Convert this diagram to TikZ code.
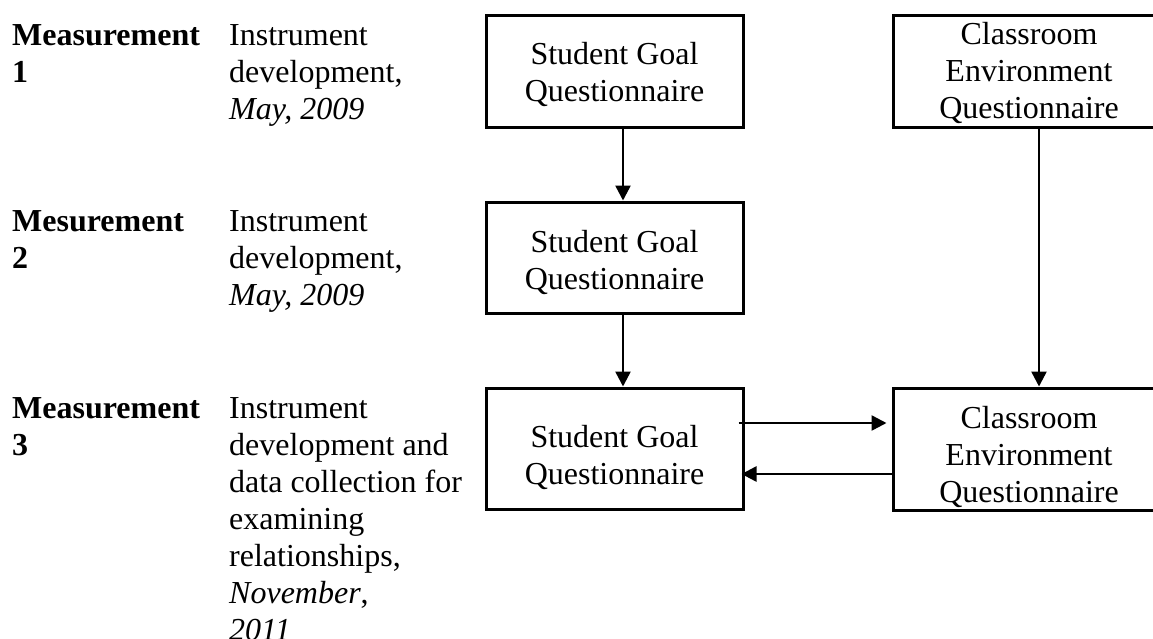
\documentclass[tikz,border=0pt]{standalone}
\usepackage{fontspec}
\setmainfont{Liberation Serif}
\usetikzlibrary{arrows.meta}
\begin{document}
\begin{tikzpicture}[x=1pt,y=-1pt,
  coltext/.style={font=\fontsize{32}{37}\selectfont, inner sep=0pt,
    anchor=north west, align=left},
  qbox/.style={draw, line width=3pt, inner sep=0pt,
    font=\fontsize{32}{37}\selectfont, align=center},
  arr/.style={line width=2.5pt, -{Triangle[length=15pt,width=15pt]}}]
\useasboundingbox (0,0) rectangle (1153,638);

% first-line strut so that each text block is placed by its top
\newcommand{\tstrut}{\rule{0pt}{24pt}}
% taller first-line strut that lowers a centred block inside its box
\newcommand{\bstrut}[1]{\rule{0pt}{#1pt}}

% measurement labels
\node[coltext, font=\fontsize{32}{37}\selectfont\bfseries] (m1) at (12,21) {\tstrut Measurement\\1};
\node[coltext, font=\fontsize{32}{37}\selectfont\bfseries] (m2) at (12,207) {\tstrut Mesurement\\2};
\node[coltext, font=\fontsize{32}{37}\selectfont\bfseries] (m3) at (12,394) {\tstrut Measurement\\3};

% descriptions
\node[coltext] (d1) at (229,21) {\tstrut Instrument\\development,\\\textit{May, 2009}};
\node[coltext] (d2) at (229,207) {\tstrut Instrument\\development,\\\textit{May, 2009}};
\node[coltext] (d3) at (229,394) {\tstrut Instrument\\development and\\data collection for\\examining\\relationships,\\\textit{November},\\\textit{2011}};

% questionnaires
\node[qbox, minimum width=257pt, minimum height=112pt] (sg1) at (614.5,71) {\bstrut{30}Student Goal\\Questionnaire};
\node[qbox, minimum width=257pt, minimum height=111pt] (sg2) at (614.5,257.5) {\bstrut{32}Student Goal\\Questionnaire};
\node[qbox, minimum width=257pt, minimum height=121pt] (sg3) at (614.5,448.5) {\bstrut{40}Student Goal\\Questionnaire};
\node[qbox, minimum width=272pt, minimum height=112pt] (ce1) at (1029,71) {\bstrut{27}Classroom\\Environment\\Questionnaire};
\node[qbox, minimum width=272pt, minimum height=122pt] (ce2) at (1029,449) {\bstrut{38}Classroom\\Environment\\Questionnaire};

% connectors
\draw[arr] ([xshift=8.5pt]sg1.south) -- ([xshift=8.5pt]sg2.north);
\draw[arr] ([xshift=8.5pt]sg2.south) -- ([xshift=8.5pt]sg3.north);
\draw[arr] ([xshift=10pt]ce1.south) -- ([xshift=10pt]ce2.north);
\draw[arr] ([xshift=-6pt,yshift=25.5pt]sg3.east) -- ([xshift=-5pt,yshift=26pt]ce2.west);
\draw[arr] ([yshift=-25pt]ce2.west) -- ([xshift=-3pt,yshift=-25.5pt]sg3.east);
\end{tikzpicture}
\end{document}
